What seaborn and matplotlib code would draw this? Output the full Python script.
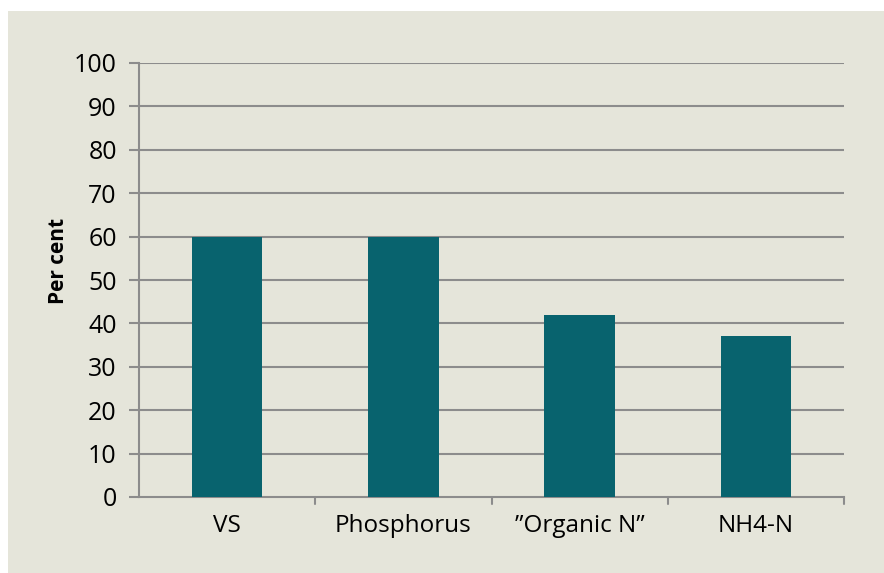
import matplotlib
matplotlib.use("Agg")
import matplotlib.pyplot as plt
import seaborn as sns
import pandas as pd
from matplotlib.patches import Rectangle

categories = ["VS", "Phosphorus", "\u201dOrganic N\u201d", "NH4-N"]
values = [60, 60, 42, 37]
yticks = [0, 10, 20, 30, 40, 50, 60, 70, 80, 90, 100]

sns.set_style("white")
plt.rcParams['font.family'] = ['Open Sans', 'DejaVu Sans']
plt.rcParams['text.color'] = 'black'
plt.rcParams['xtick.color'] = 'black'
plt.rcParams['ytick.color'] = 'black'
plt.rcParams['axes.labelcolor'] = 'black'

bg = "#e5e5da"
bar_color = "#08636e"
grid_color = "#8c8c8c"

fig = plt.figure(figsize=(8.84, 5.73), dpi=100)
fig.patch.set_facecolor("white")
fig.patches.append(Rectangle((8/884, 0), 1, (573-11)/573, transform=fig.transFigure,
                             facecolor=bg, edgecolor="none", zorder=-10))

ax = fig.add_axes([139/884, 1-497/573, (844-139)/884, (497-63)/573])
ax.patch.set_alpha(0)

df = pd.DataFrame({"cat": categories, "val": values})
sns.barplot(data=df, x="cat", y="val", color=bar_color, saturation=1, width=0.4,
            linewidth=0, edgecolor="none", ax=ax, zorder=3)

ax.set_ylim(0, 100)
ax.set_xlim(-0.5, 3.5)
ax.set_yticks(yticks)
ax.set_yticklabels([str(t) for t in yticks], fontsize=18)
ax.set_xticks(range(len(categories)))
ax.set_xticklabels(categories, fontsize=17.5)
ax.set_xlabel("")
ax.set_ylabel("Per cent", fontsize=15, fontweight="bold")
ax.yaxis.set_label_coords(-0.1, 0.545)

for t in yticks[1:]:
    ax.axhline(t, color=grid_color, lw=1.5, zorder=1)

for s in ["top", "right"]:
    ax.spines[s].set_visible(False)
ax.spines["left"].set_color(grid_color)
ax.spines["left"].set_linewidth(1.5)
ax.spines["bottom"].set_color(grid_color)
ax.spines["bottom"].set_linewidth(1.5)

ax.tick_params(axis="y", length=7, width=1.5, color=grid_color, labelcolor="black", pad=9, left=True)
ax.tick_params(axis="x", length=0, pad=12, bottom=False, labelcolor="black")
for xb in [0.5, 1.5, 2.5, 3.5]:
    ax.plot([xb, xb], [0, -0.015], transform=ax.get_xaxis_transform(), color=grid_color,
            lw=1.5, clip_on=False, zorder=2)

fig.savefig("out.png", dpi=100)
